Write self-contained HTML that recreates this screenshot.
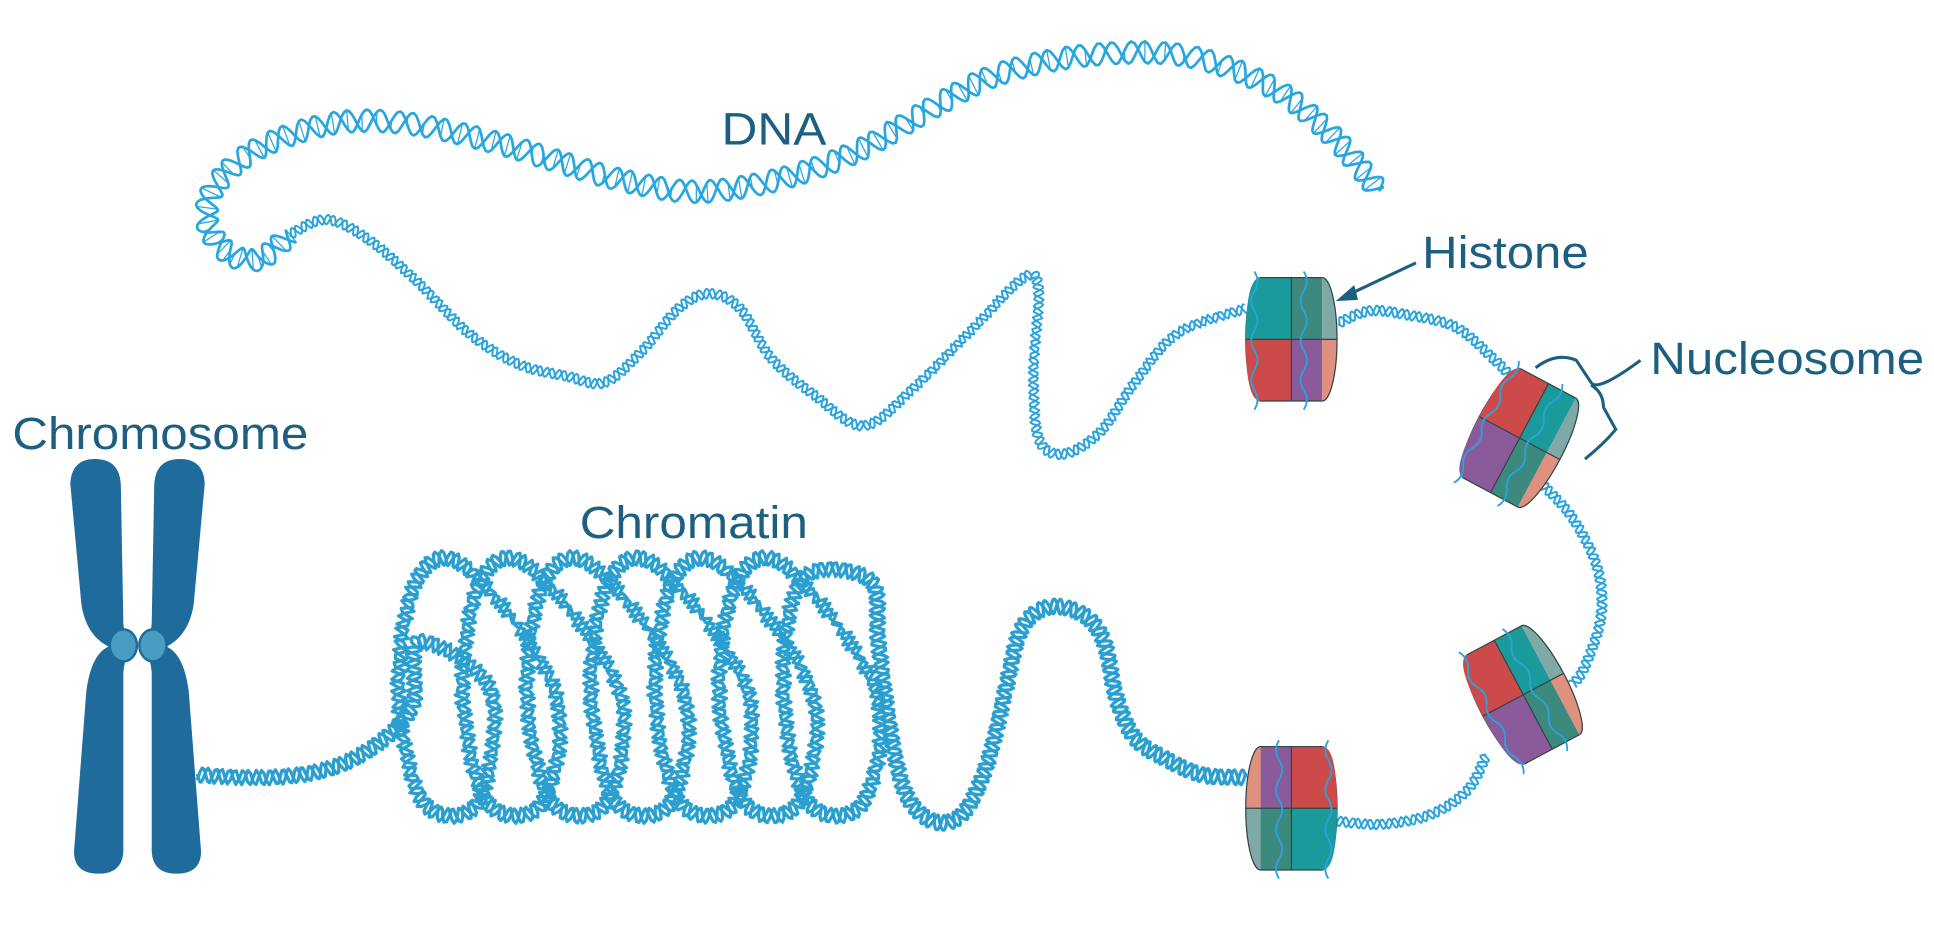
<!DOCTYPE html>
<html><head><meta charset="utf-8"><style>
html,body{margin:0;padding:0;background:#fff;overflow:hidden}
svg{display:block}
text{font-family:"Liberation Sans",sans-serif;fill:#1d5f80}
</style></head><body>
<svg id="s" width="1934" height="944" viewBox="0 0 1568 765" preserveAspectRatio="none" xmlns="http://www.w3.org/2000/svg">
<rect width="1568" height="765" fill="#fff"/>
<g id="helix"></g>
<!-- chromosome -->
<g fill="#1f6c9c">
<path d="M57,392 Q58,372 77,372 Q98,372 98,395 L100,505 Q101,520 110,524 Q101,530 100,545 L100,690 Q99,708 80,708 Q60,708 60,690 L70,560 Q74,530 88,524 Q70,515 66,490 Z"/>
<path d="M166,392 Q165,372 146,372 Q125,372 125,395 L123,505 Q122,520 113,524 Q122,530 123,545 L123,690 Q124,708 143,708 Q163,708 163,690 L153,560 Q149,530 135,524 Q153,515 157,490 Z"/>
</g>
<ellipse cx="100" cy="523" rx="11" ry="13" fill="#4a9cc0" stroke="#1f6c9c" stroke-width="2"/>
<ellipse cx="124" cy="523" rx="11" ry="13" fill="#4a9cc0" stroke="#1f6c9c" stroke-width="2"/>
<g id="nucs"></g>
<!-- labels -->
<text x="585" y="117" font-size="37" textLength="85" lengthAdjust="spacingAndGlyphs">DNA</text>
<text x="1153" y="217" font-size="37" textLength="135" lengthAdjust="spacingAndGlyphs">Histone</text>
<text x="1338" y="303" font-size="37" textLength="222" lengthAdjust="spacingAndGlyphs">Nucleosome</text>
<text x="10" y="364" font-size="37" textLength="240" lengthAdjust="spacingAndGlyphs">Chromosome</text>
<text x="470" y="436" font-size="37" textLength="185" lengthAdjust="spacingAndGlyphs">Chromatin</text>
<path d="M1148,213 L1095,238" stroke="#1d5f80" stroke-width="2.5" fill="none"/>
<path d="M1083,244 L1098,231 L1101,243 Z" fill="#1d5f80"/>
<path d="M1245,298 Q1262,285 1278,292 L1290,310 Q1295,318 1330,292 M1290,312 Q1300,318 1300,330 L1310,348 Q1300,360 1285,372" stroke="#1d5f80" stroke-width="2.5" fill="none"/>
</svg>
<script>
const NS="http://www.w3.org/2000/svg";
function cr(pts,n){const o=[];for(let i=0;i<pts.length-1;i++){const p0=pts[Math.max(0,i-1)],p1=pts[i],p2=pts[i+1],p3=pts[Math.min(pts.length-1,i+2)];for(let k=0;k<n;k++){const t=k/n,t2=t*t,t3=t2*t;o.push([0.5*((2*p1[0])+(-p0[0]+p2[0])*t+(2*p0[0]-5*p1[0]+4*p2[0]-p3[0])*t2+(-p0[0]+3*p1[0]-3*p2[0]+p3[0])*t3),0.5*((2*p1[1])+(-p0[1]+p2[1])*t+(2*p0[1]-5*p1[1]+4*p2[1]-p3[1])*t2+(-p0[1]+3*p1[1]-3*p2[1]+p3[1])*t3)]);}}o.push(pts[pts.length-1]);return o;}
function helix(pts,A,P,col,w,rung){const d=cr(pts,30);let s=0;const a=[],b=[],r=[];for(let i=0;i<d.length;i++){if(i>0)s+=Math.hypot(d[i][0]-d[i-1][0],d[i][1]-d[i-1][1]);const j=Math.min(i+1,d.length-1),k=Math.max(i-1,0);let tx=d[j][0]-d[k][0],ty=d[j][1]-d[k][1];const L=Math.hypot(tx,ty)||1;const nx=-ty/L,ny=tx/L;const ph=2*Math.PI*s/P;const o1=A*Math.sin(ph),o2=A*Math.sin(ph+Math.PI*0.8);a.push([d[i][0]+nx*o1,d[i][1]+ny*o1]);b.push([d[i][0]+nx*o2,d[i][1]+ny*o2]);if(rung&&i%6==0)r.push([a[i],b[i]]);}
const g=document.getElementById('helix');const mk=(p,c,wd)=>{const e=document.createElementNS(NS,'path');e.setAttribute('d','M'+p.map(q=>q[0].toFixed(1)+','+q[1].toFixed(1)).join('L'));e.setAttribute('fill','none');e.setAttribute('stroke',c);e.setAttribute('stroke-width',wd);e.setAttribute('stroke-linejoin','round');g.appendChild(e);};
mk(a,col,w);mk(b,col,w);if(rung){const e=document.createElementNS(NS,'path');e.setAttribute('d',r.map(q=>'M'+q[0][0].toFixed(1)+','+q[0][1].toFixed(1)+'L'+q[1][0].toFixed(1)+','+q[1][1].toFixed(1)).join(''));e.setAttribute('stroke',col);e.setAttribute('stroke-width',1);g.appendChild(e);}}
helix([[1118,155],[1080,110],[1030,70],[960,45],[880,45],[810,60],[760,85],[700,120],[650,140],[600,152],[555,155],[500,145],[450,130],[400,115],[330,100],[270,100],[210,120],[175,150],[168,180],[185,205],[210,210],[235,190]],9,26,"#29a6de",2.2,true);
helix([[235,190],[265,178],[300,195],[340,230],[380,270],[420,295],[460,305],[490,310],[520,285],[550,250],[575,238],[600,250],[625,290],[660,320],[700,345],[740,315],[790,265],[830,225],[842,235],[838,300],[842,355],[862,368],[892,350],[920,310],[955,270],[1010,250]],4,10,"#2aa3dc",1.6,false);
helix([[1085,262],[1110,252],[1140,255],[1180,265],[1210,290],[1225,305]],4,10,"#2aa3dc",1.6,false);
helix([[1250,392],[1275,420],[1295,460],[1298,500],[1285,540],[1275,555]],4,10,"#2aa3dc",1.6,false);
helix([[1205,612],[1190,640],[1160,660],[1120,668],[1080,665]],4,10,"#2aa3dc",1.6,false);
let ch=[[1010,630],[975,628],[945,615],[920,598],[905,565],[895,520],[878,498],[850,492],[828,510],[815,560],[800,620],[780,660],[755,665],[733,640],[720,580],[712,520],[705,470]];
const loops=[];for(let i=0;i<=6;i++){const cx=690-i*52;loops.push([cx,460]);loops.push([cx-40,470]);loops.push([cx-55,560]);loops.push([cx-35,650]);loops.push([cx+10,650]);loops.push([cx+20,560]);}
ch=ch.concat(loops.slice(1));ch=ch.concat([[340,520],[335,570],[310,600],[270,622],[220,630],[160,628]]);
helix(ch,6,11,"#2b9fcf",2.6,false);
function nuc(x,y,rot,flip,c){const g=document.getElementById('nucs');const e=document.createElementNS(NS,'g');e.setAttribute('transform',`translate(${x},${y}) rotate(${rot}) scale(${flip},1)`);
e.innerHTML=`<ellipse cx="-25" cy="0" rx="12" ry="50" fill="${c[0]}" stroke="#455" stroke-width="1"/>
<path d="M-25,-50 L0,-50 L0,0 L-37,0 Q-37,-50 -25,-50Z" fill="${c[0]}"/>
<path d="M0,-50 L25,-50 L25,0 L0,0Z" fill="${c[1]}"/>
<path d="M-37,0 L0,0 L0,50 L-25,50 Q-37,50 -37,0Z" fill="${c[2]}"/>
<path d="M0,0 L25,0 L25,50 L0,50Z" fill="${c[3]}"/>
<path d="M25,-50 A12,50 0 0 1 25,50Z" fill="${c[4]}"/><path d="M25,-50 A12,50 0 0 1 37,0 L25,0Z" fill="${c[5]}"/>
<path d="M25,-50 A12,50 0 0 1 25,50 M-25,-50 L25,-50 M-25,50 L25,50 M-37,0 L37,0 M0,-50 L0,50" stroke="#344" stroke-width="1" fill="none"/>
<path d="M-30,-55 q5,8 0,16 t0,16 t0,16 t0,16 t0,16 t0,16 t0,16 M10,-55 q5,8 0,16 t0,16 t0,16 t0,16 t0,16 t0,16 t0,16" stroke="#2aa3dc" stroke-width="1.5" fill="none"/>`;g.appendChild(e);}
nuc(1047,275,0,1,["#1a9a9a","#3c8a7e","#cc4a4a","#8a5a9a","#e0907e","#7fa9a6"]);
nuc(1232,355,28,1,["#cc4a4a","#1a9a9a","#8a5a9a","#3c8a7e","#e0907e","#7fa9a6"]);
nuc(1235,563,-28,1,["#cc4a4a","#1a9a9a","#8a5a9a","#3c8a7e","#e0907e","#7fa9a6"]);
nuc(1047,655,0,-1,["#cc4a4a","#8a5a9a","#1a9a9a","#3c8a7e","#7fa9a6","#e0907e"]);
</script>
</body></html>
